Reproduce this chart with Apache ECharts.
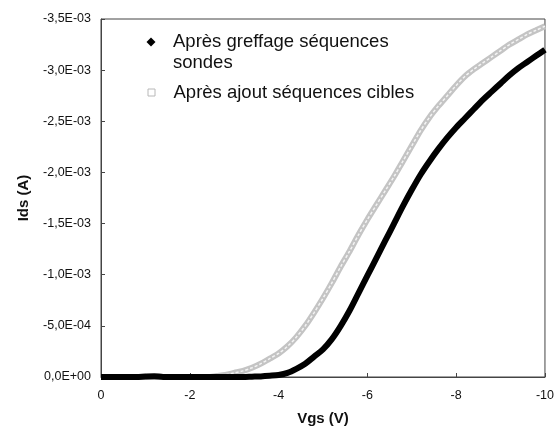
<!DOCTYPE html>
<html>
<head>
<meta charset="utf-8">
<script src="https://cdn.jsdelivr.net/npm/echarts@6/dist/echarts.min.js"></script>
<style>
  html, body { margin: 0; padding: 0; background: #fff; }
  #chart { width: 557px; height: 431px; }
</style>
</head>
<body>
<div id="chart"></div>
<script>
// Vgs (V), pas de 0,2 V
const vgs = [0, -0.2, -0.4, -0.6, -0.8, -1, -1.2, -1.4, -1.6, -1.8,
  -2, -2.2, -2.4, -2.6, -2.8, -3, -3.2, -3.4, -3.6, -3.8,
  -4, -4.2, -4.4, -4.6, -4.8, -5, -5.2, -5.4, -5.6, -5.8,
  -6, -6.2, -6.4, -6.6, -6.8, -7, -7.2, -7.4, -7.6, -7.8,
  -8, -8.2, -8.4, -8.6, -8.8, -9, -9.2, -9.4, -9.6, -9.8, -10];

// Ids en mA
const idsSondes = [0, 0, 0, 0, 0, -0.005, -0.008, 0, 0, 0,
  0, 0, 0, 0, 0, 0, 0, -0.003, -0.006, -0.012,
  -0.02, -0.04, -0.08, -0.13, -0.2, -0.27, -0.37, -0.5, -0.65, -0.82,
  -0.99, -1.16, -1.33, -1.5, -1.67, -1.83, -1.98, -2.11, -2.23, -2.34,
  -2.44, -2.53, -2.62, -2.71, -2.79, -2.87, -2.95, -3.02, -3.08, -3.14, -3.2];

const idsCibles = [0, 0, 0, 0, 0, 0, 0, 0, 0, 0,
  0, 0, 0, -0.01, -0.02, -0.04, -0.06, -0.09, -0.13, -0.18,
  -0.23, -0.3, -0.39, -0.5, -0.63, -0.77, -0.92, -1.08, -1.23, -1.39,
  -1.54, -1.68, -1.82, -1.96, -2.11, -2.26, -2.41, -2.54, -2.65, -2.75,
  -2.85, -2.94, -3.01, -3.07, -3.13, -3.19, -3.25, -3.3, -3.35, -3.39, -3.43];

const nameSondes = "Après greffage séquences\nsondes";
const nameCibles = "Après ajout séquences cibles";

function toPairs(ys) {
  return vgs.map((x, i) => [x, ys[i] * 1e-3]);
}

// format "-3,5E-03"
function sciLabel(v) {
  if (Math.abs(v) < 1e-12) return "0,0E+00";
  let exp = Math.floor(Math.log10(Math.abs(v)) + 1e-9);
  let mant = v / Math.pow(10, exp);
  let e = (exp < 0 ? "-" : "+") + String(Math.abs(exp)).padStart(2, "0");
  return mant.toFixed(1).replace(".", ",") + "E" + e;
}

const chart = echarts.init(document.getElementById("chart"));
const font = "Liberation Sans, Arial, sans-serif";

chart.setOption({
  animation: false,
  textStyle: { fontFamily: font },
  grid: {
    left: 101, right: 8, top: 19, bottom: 51,
    show: true, borderColor: "#444", borderWidth: 1
  },
  legend: [
    {
      left: 146.5, top: 10.5, padding: 0,
      itemWidth: 9, itemHeight: 9,
      // ligne vide en tête : le losange se cale sur la 1re ligne du texte
      formatter: (n) => " \n" + n,
      data: [{
        name: nameSondes, icon: "diamond",
        itemStyle: { color: "#000" },
        textStyle: { padding: [0, 0, 0, 12.5] }
      }],
      textStyle: { fontFamily: font, fontSize: 18.5, color: "#111", lineHeight: 21 }
    },
    {
      left: 147.5, top: 83, padding: 0,
      itemWidth: 7, itemHeight: 7,
      data: [{
        name: nameCibles, icon: "rect",
        itemStyle: { color: "#fff", borderColor: "#b8b8b8", borderWidth: 1 },
        textStyle: { padding: [0, 0, 0, 13.5] }
      }],
      textStyle: { fontFamily: font, fontSize: 18.5, color: "#111" }
    }
  ],
  xAxis: {
    type: "value",
    min: -10, max: 0, interval: 2,
    inverse: true,
    name: "Vgs (V)",
    nameLocation: "middle",
    nameGap: 34,
    nameTextStyle: { fontFamily: font, fontSize: 15, fontWeight: "bold", color: "#111" },
    axisLine: { lineStyle: { color: "#444" } },
    axisTick: { inside: true, length: 4, lineStyle: { color: "#444" } },
    axisLabel: { fontSize: 12.5, color: "#111", margin: 12 },
    splitLine: { show: false }
  },
  yAxis: {
    type: "value",
    min: -0.0035, max: 0, interval: 0.0005,
    inverse: true,
    name: "Ids (A)",
    nameLocation: "middle",
    nameGap: 70,
    nameTextStyle: { fontFamily: font, fontSize: 15, fontWeight: "bold", color: "#111" },
    axisLine: { lineStyle: { color: "#444" } },
    axisTick: { inside: true, length: 4, lineStyle: { color: "#444" } },
    axisLabel: { fontSize: 12.5, color: "#111", margin: 10, formatter: sciLabel },
    splitLine: { show: false }
  },
  series: [
    {
      name: nameCibles,
      type: "line",
      data: toPairs(idsCibles),
      smooth: 0.3,
      showSymbol: false,
      clip: false,
      itemStyle: { color: "#c4c4c4" },
      lineStyle: { color: "#c4c4c4", width: 6 }
    },
    {
      name: "cibles-centre",
      type: "line",
      data: toPairs(idsCibles),
      smooth: 0.3,
      showSymbol: false,
      clip: false,
      silent: true,
      lineStyle: { color: "#f4f4f4", width: 1.5, type: [3, 2] }
    },
    {
      name: nameSondes,
      type: "line",
      data: toPairs(idsSondes),
      smooth: 0.3,
      showSymbol: false,
      clip: false,
      itemStyle: { color: "#000" },
      lineStyle: { color: "#000", width: 6 }
    }
  ]
});
</script>
</body>
</html>
